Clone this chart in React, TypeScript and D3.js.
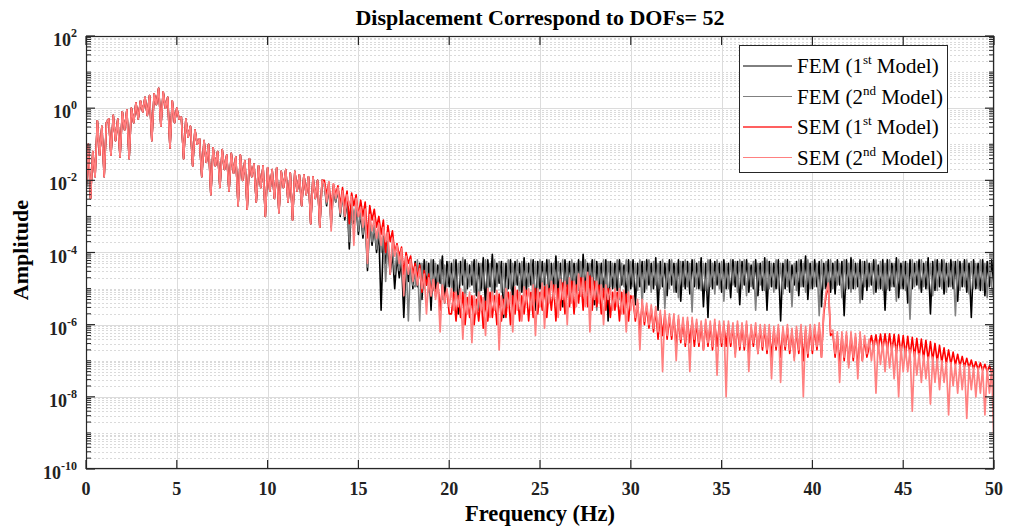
import React from 'react';
import * as d3 from 'd3';

// Frequency sampling of the spectra (Hz between consecutive values)
const STEP_HZ = 0.125;

// All values are log10(amplitude).
// 0 – 13.0 Hz: the four models coincide here
const SHARED_LOW = [
  -2.3, -1.0, -2.5, -1.2, -1.9, -0.35, -1.3, -0.5,
  -1.9, -0.4, -0.3, -1.3, -0.2, -0.9, -0.3, -1.35,
  -0.1, -0.6, -0.05, -1.4, 0.0, -0.4, 0.15, -0.3,
  0.2, -0.1, 0.3, -0.2, 0.35, -0.9, 0.4, 0.1,
  0.55, -0.5, 0.45, 0.0, 0.3, -1.1, 0.2, -0.4,
  0.0, -0.3, -0.25, -1.4, -0.3, -0.8, -0.5, -1.6,
  -0.6, -1.0, -0.85, -1.9, -0.9, -1.5, -1.0, -2.4,
  -1.1, -1.6, -1.2, -2.2, -1.15, -1.7, -1.3, -2.3,
  -1.25, -1.8, -1.35, -2.7, -1.3, -2.0, -1.45, -2.8,
  -1.4, -1.9, -1.55, -2.6, -1.6, -2.2, -1.6, -3.0,
  -1.65, -2.3, -1.7, -2.5, -1.65, -2.9, -1.75, -2.2,
  -1.7, -2.6, -1.8, -3.1, -1.75, -2.3, -1.85, -2.7,
  -1.85, -2.4, -1.9, -3.2, -1.9, -2.5, -2.0, -3.3,
  -2.0,
];

// 13.125 – 50 Hz, FEM (1st Model)
const FEM1_HIGH = [
  -2.1, -2.7, -2.15, -3.3, -2.2, -2.6, -2.25, -3.0,
  -2.35, -3.1, -2.5, -3.9, -2.6, -3.2, -2.7, -3.5,
  -2.9, -3.6, -3.0, -4.5, -3.1, -3.8, -3.3, -4.0,
  -3.4, -5.6, -3.6, -4.3, -3.8, -4.6, -4.0, -5.0,
  -4.1, -4.7, -4.2, -5.8, -4.3, -4.8, -4.25, -5.0,
  -4.25, -4.95, -4.3, -5.3, -4.2, -4.9, -4.3, -5.6,
  -4.2, -5.0, -4.35, -4.85, -4.1, -5.4, -4.25, -4.95,
  -4.3, -5.1, -4.2, -5.7, -4.25, -4.9, -4.2, -5.0,
  -4.35, -4.9, -4.2, -5.2, -4.3, -5.05, -4.15, -5.5,
  -4.2, -4.95, -4.05, -5.1, -4.3, -4.85, -4.25, -5.8,
  -4.3, -5.0, -4.2, -5.4, -4.25, -4.9, -4.3, -5.1,
  -4.15, -5.05, -4.3, -4.9, -4.2, -5.6, -4.25, -5.0,
  -4.25, -4.9, -4.2, -5.3, -4.3, -5.0, -4.1, -5.15,
  -4.3, -5.5, -4.2, -4.95, -4.25, -5.1, -4.3, -4.9,
  -4.2, -5.2, -4.05, -5.0, -4.3, -4.9, -4.2, -5.45,
  -4.25, -4.95, -4.3, -5.1, -4.2, -5.9, -4.25, -5.0,
  -4.3, -5.05, -4.2, -4.9, -4.35, -5.3, -4.2, -5.0,
  -4.2, -5.45, -4.3, -4.95, -4.25, -5.1, -4.2, -4.9,
  -4.3, -5.0, -4.15, -5.6, -4.25, -4.95, -4.3, -5.2,
  -4.2, -4.9, -4.3, -5.1, -4.2, -5.35, -4.25, -5.0,
  -4.25, -5.15, -4.2, -4.95, -4.3, -5.0, -4.15, -5.5,
  -4.3, -5.8, -4.2, -5.0, -4.25, -4.9, -4.3, -5.1,
  -4.2, -5.0, -4.3, -5.25, -4.2, -4.95, -4.25, -5.45,
  -4.25, -4.9, -4.2, -5.1, -4.35, -5.0, -4.2, -5.2,
  -4.3, -5.05, -4.15, -5.6, -4.25, -4.95, -4.3, -5.0,
  -4.2, -5.9, -4.3, -5.0, -4.2, -5.1, -4.35, -4.9,
  -4.25, -5.2, -4.2, -4.95, -4.1, -5.3, -4.3, -5.0,
  -4.2, -4.95, -4.25, -5.5, -4.3, -5.0, -4.2, -5.1,
  -4.3, -5.15, -4.2, -4.9, -4.25, -5.75, -4.2, -5.0,
  -4.15, -5.0, -4.3, -4.95, -4.2, -5.3, -4.25, -5.05,
  -4.3, -4.9, -4.2, -5.1, -4.35, -5.0, -4.2, -5.6,
  -4.2, -5.05, -4.3, -4.95, -4.15, -5.25, -4.3, -5.0,
  -4.25, -5.4, -4.2, -5.0, -4.3, -4.9, -4.2, -5.1,
  -4.3, -5.0, -4.15, -5.7, -4.25, -5.05, -4.2, -4.95,
  -4.2, -5.15, -4.3, -4.95, -4.2, -5.0, -4.25, -5.35,
  -4.25, -4.95, -4.2, -5.1, -4.3, -5.8, -4.2, -5.0,
  -4.3, -5.05, -4.2, -5.2, -4.25, -4.95, -4.2, -5.0,
];

// 13.125 – 50 Hz, FEM (2nd Model)
const FEM2_HIGH = [
  -2.1, -2.65, -2.1, -3.2, -2.15, -2.6, -2.2, -2.95,
  -2.4, -3.0, -2.45, -3.7, -2.55, -3.1, -2.65, -3.4,
  -2.85, -3.5, -2.95, -4.4, -3.1, -3.7, -3.25, -3.9,
  -3.4, -4.0, -3.55, -4.8, -3.7, -4.3, -3.9, -4.6,
  -4.0, -4.5, -4.1, -5.0, -4.2, -5.9, -4.25, -4.9,
  -4.95, -4.2, -5.9, -4.3, -5.0, -4.25, -5.1, -4.2,
  -5.05, -4.3, -4.9, -4.2, -5.3, -4.35, -4.95, -4.25,
  -5.0, -4.2, -5.15, -4.3, -4.9, -4.15, -5.45, -4.3,
  -4.95, -4.25, -5.1, -4.2, -5.6, -4.3, -5.0, -4.2,
  -5.05, -4.3, -5.3, -4.2, -4.95, -4.25, -5.1, -4.3,
  -5.7, -4.2, -5.0, -4.3, -4.9, -4.2, -5.2, -4.25,
  -5.0, -4.3, -4.95, -4.2, -5.4, -4.25, -5.05, -4.2,
  -5.1, -4.3, -5.5, -4.2, -4.95, -4.3, -5.0, -4.25,
  -4.9, -4.2, -5.05, -4.3, -5.35, -4.2, -5.0, -4.3,
  -5.05, -4.25, -4.95, -4.2, -5.15, -4.3, -4.9, -4.2,
  -5.6, -4.3, -5.0, -4.2, -5.1, -4.25, -4.95, -4.3,
  -5.0, -4.2, -5.3, -4.3, -4.95, -4.2, -5.1, -4.25,
  -4.95, -4.3, -5.05, -4.2, -5.45, -4.25, -5.0, -4.2,
  -5.1, -4.25, -4.9, -4.3, -5.0, -4.2, -5.55, -4.3,
  -5.0, -4.2, -5.1, -4.3, -5.25, -4.25, -4.95, -4.2,
  -4.95, -4.3, -5.65, -4.2, -5.0, -4.25, -5.05, -4.3,
  -5.05, -4.2, -4.95, -4.3, -5.15, -4.2, -5.0, -4.25,
  -5.35, -4.3, -5.0, -4.2, -4.9, -4.25, -5.1, -4.2,
  -5.0, -4.2, -5.2, -4.3, -4.95, -4.25, -5.6, -4.3,
  -4.9, -4.25, -5.05, -4.2, -5.0, -4.3, -5.1, -4.2,
  -5.0, -4.3, -5.15, -4.2, -4.95, -4.25, -5.5, -4.3,
  -5.05, -4.2, -4.95, -4.3, -5.1, -4.2, -5.0, -4.25,
  -4.95, -4.3, -5.75, -4.2, -5.0, -4.25, -5.05, -4.2,
  -5.0, -4.25, -4.9, -4.3, -5.25, -4.2, -5.0, -4.3,
  -5.1, -4.2, -5.0, -4.3, -5.4, -4.25, -4.95, -4.2,
  -4.95, -4.3, -5.15, -4.2, -5.0, -4.25, -5.05, -4.3,
  -5.0, -4.2, -4.95, -4.3, -5.35, -4.2, -5.0, -4.25,
  -5.05, -4.3, -5.85, -4.2, -4.95, -4.25, -5.0, -4.2,
  -4.95, -4.25, -5.0, -4.3, -5.2, -4.2, -5.05, -4.3,
  -5.0, -4.2, -5.1, -4.3, -4.95, -4.25, -5.75, -4.2,
  -5.05, -4.3, -4.95, -4.2, -5.15, -4.25, -5.0, -4.3,
  -5.0, -4.2, -5.05, -4.3, -5.25, -4.25, -4.95, -5.3,
];

// 13.125 – 50 Hz, SEM (1st Model)
const SEM1_HIGH = [
  -2.0, -2.4, -2.05, -2.8, -2.1, -2.4, -2.15, -2.7,
  -2.2, -2.7, -2.3, -3.2, -2.35, -2.7, -2.4, -3.0,
  -2.55, -3.0, -2.6, -3.6, -2.7, -3.1, -2.8, -3.3,
  -3.0, -3.5, -3.1, -4.0, -3.25, -3.7, -3.4, -4.0,
  -3.75, -4.1, -3.85, -4.6, -4.0, -4.3, -4.1, -4.6,
  -4.3, -4.7, -4.35, -5.1, -4.5, -4.9, -4.6, -5.2,
  -4.75, -5.2, -4.85, -5.6, -4.95, -5.3, -5.05, -5.7,
  -5.7, -5.1, -5.9, -5.2, -5.8, -5.1, -6.0, -5.25,
  -5.8, -5.2, -6.0, -5.3, -5.9, -5.2, -6.1, -5.35,
  -5.9, -5.1, -5.8, -5.2, -6.0, -5.15, -5.9, -5.3,
  -5.8, -5.1, -6.0, -5.2, -5.7, -5.05, -5.9, -5.2,
  -5.7, -5.05, -5.9, -5.1, -5.8, -5.0, -5.7, -5.1,
  -5.6, -4.95, -5.8, -5.0, -5.6, -4.9, -5.9, -5.0,
  -5.6, -4.85, -5.7, -4.9, -5.5, -4.8, -5.7, -4.9,
  -5.4, -4.7, -5.6, -4.8, -5.5, -4.65, -5.6, -4.8,
  -5.5, -4.9, -5.7, -5.0, -5.6, -5.0, -5.8, -5.1,
  -5.6, -5.1, -5.9, -5.1, -5.7, -5.15, -5.9, -5.2,
  -5.3, -5.9, -5.4, -6.2, -5.4, -6.0, -5.5, -6.1,
  -5.55, -6.2, -5.6, -6.4, -5.7, -6.3, -5.7, -6.4,
  -5.8, -6.4, -5.8, -6.6, -5.85, -6.5, -5.9, -6.6,
  -5.9, -6.5, -5.9, -6.6, -5.95, -6.6, -6.0, -6.7,
  -5.95, -6.6, -6.0, -6.7, -5.95, -6.6, -6.0, -6.6,
  -6.0, -6.6, -6.0, -6.6, -6.05, -6.8, -6.0, -6.7,
  -6.05, -6.7, -6.0, -6.8, -6.1, -6.6, -6.05, -6.8,
  -6.1, -6.7, -6.1, -6.8, -6.1, -6.9, -6.15, -6.7,
  -6.1, -6.9, -6.15, -6.7, -6.1, -6.8, -6.2, -6.9,
  -6.15, -6.8, -6.1, -7.0, -6.15, -6.9, -6.1, -6.8,
  -6.1, -6.7, -6.05, -6.9, -5.7, -5.2, -4.9, -6.3,
  -6.25, -6.9, -6.3, -7.1, -6.3, -7.0, -6.3, -7.1,
  -6.3, -7.0, -6.35, -7.2, -6.3, -7.0, -6.4, -6.9,
  -6.62, -6.3, -6.65, -6.28, -6.68, -6.26, -6.7, -6.25,
  -6.72, -6.25, -6.75, -6.27, -6.8, -6.28, -6.82, -6.3,
  -6.85, -6.32, -6.88, -6.35, -6.9, -6.38, -6.92, -6.4,
  -6.95, -6.43, -6.98, -6.47, -7.0, -6.52, -7.03, -6.57,
  -7.05, -6.64, -7.08, -6.7, -7.1, -6.76, -7.12, -6.82,
  -7.15, -6.88, -7.17, -6.93, -7.2, -6.98, -7.22, -7.03,
  -7.25, -7.06, -7.27, -7.1, -7.3, -7.14, -7.32, -7.18,
];

// 13.125 – 50 Hz, SEM (2nd Model)
const SEM2_HIGH = [
  -2.1, -2.6, -2.05, -3.4, -2.1, -2.5, -2.2, -2.9,
  -2.3, -3.0, -2.4, -2.7, -2.45, -3.8, -2.5, -3.0,
  -2.75, -3.3, -2.8, -4.3, -2.95, -3.4, -3.05, -3.6,
  -3.2, -3.8, -3.3, -3.7, -3.45, -4.6, -3.6, -4.1,
  -3.8, -4.3, -3.9, -5.2, -4.1, -4.6, -4.2, -4.8,
  -4.4, -4.9, -4.45, -5.0, -4.6, -5.7, -4.7, -5.2,
  -4.75, -5.3, -4.85, -6.2, -4.9, -5.4, -5.0, -5.5,
  -5.0, -5.6, -5.1, -5.5, -5.0, -6.4, -5.15, -5.7,
  -5.1, -6.5, -5.2, -5.7, -5.1, -5.6, -5.25, -6.3,
  -5.0, -5.8, -5.1, -5.6, -5.05, -6.7, -5.2, -5.7,
  -5.0, -5.5, -5.1, -6.2, -4.95, -5.6, -5.1, -5.9,
  -4.95, -5.4, -5.0, -5.6, -4.9, -6.3, -5.0, -5.5,
  -4.85, -6.1, -4.9, -5.4, -4.8, -5.3, -4.9, -5.8,
  -4.75, -5.3, -4.8, -6.0, -4.7, -5.4, -4.8, -5.5,
  -4.6, -5.2, -4.7, -5.5, -4.55, -6.2, -4.7, -5.3,
  -4.8, -5.4, -4.9, -6.0, -4.9, -5.3, -5.0, -5.6,
  -5.0, -5.5, -5.0, -5.7, -5.05, -6.2, -5.1, -5.6,
  -5.2, -5.8, -5.3, -6.7, -5.3, -5.9, -5.4, -6.0,
  -5.45, -6.1, -5.5, -6.2, -5.6, -7.3, -5.6, -6.3,
  -5.7, -6.3, -5.7, -7.0, -5.75, -6.4, -5.8, -6.5,
  -5.8, -7.3, -5.8, -6.4, -5.85, -6.5, -5.9, -6.7,
  -5.85, -6.5, -5.9, -6.6, -5.85, -7.4, -5.9, -6.5,
  -5.9, -8.0, -5.9, -6.5, -5.95, -6.9, -5.9, -6.6,
  -5.95, -6.6, -5.9, -7.3, -6.0, -6.5, -5.95, -6.8,
  -6.0, -6.6, -6.0, -6.7, -6.0, -7.5, -6.05, -6.6,
  -6.0, -7.6, -6.05, -6.6, -6.0, -6.7, -6.1, -7.0,
  -6.05, -6.7, -6.0, -8.0, -6.05, -6.8, -6.0, -6.7,
  -6.0, -6.6, -5.95, -6.9, -5.6, -5.1, -4.85, -6.2,
  -6.15, -6.8, -6.2, -7.6, -6.2, -6.9, -6.2, -7.2,
  -6.2, -6.9, -6.25, -7.5, -6.2, -7.0, -6.3, -6.8,
  -6.4, -7.0, -6.45, -7.9, -6.45, -7.1, -6.5, -7.3,
  -6.5, -7.2, -6.55, -7.5, -6.6, -8.0, -6.6, -7.3,
  -6.65, -7.3, -6.7, -8.4, -6.75, -7.4, -6.8, -7.6,
  -6.85, -7.5, -6.9, -8.2, -6.9, -7.6, -6.95, -7.8,
  -7.0, -7.6, -7.05, -8.5, -7.05, -7.7, -7.1, -7.9,
  -7.1, -7.8, -7.12, -8.6, -7.15, -7.8, -7.18, -8.0,
  -7.2, -7.9, -7.2, -8.5, -7.22, -7.9, -7.22, -9.4,
];

const X_TICKS = [0, 5, 10, 15, 20, 25, 30, 35, 40, 45, 50];
const Y_TICK_EXPONENTS = [-10, -8, -6, -4, -2, 0, 2];

const LEGEND = [
  { label: 'FEM (1', sup: 'st', tail: ' Model)' },
  { label: 'FEM (2', sup: 'nd', tail: ' Model)' },
  { label: 'SEM (1', sup: 'st', tail: ' Model)' },
  { label: 'SEM (2', sup: 'nd', tail: ' Model)' },
];

const FONT = "'Liberation Serif', 'DejaVu Serif', serif";

export default function App() {
  const L = 86, R = 994, T = 36, B = 469;
  const x = d3.scaleLinear().domain([0, 50]).range([L, R]);
  const y = d3.scaleLog().domain([1e-10, 1e2]).range([B, T]);

  const series = [
    { vals: [...SHARED_LOW, ...FEM1_HIGH], color: '#000000', width: 1.6 },
    { vals: [...SHARED_LOW, ...FEM2_HIGH], color: '#808080', width: 1.6 },
    { vals: [...SHARED_LOW, ...SEM1_HIGH], color: '#ff0000', width: 1.6 },
    { vals: [...SHARED_LOW, ...SEM2_HIGH], color: '#ff8080', width: 1.7 },
  ];
  const legendStyle = [
    { color: '#000000', width: 1 },
    { color: '#808080', width: 1 },
    { color: '#ff6060', width: 2.2 },
    { color: '#ff8080', width: 1 },
  ];

  const line = d3
    .line<number>()
    .x((_, i) => x(i * STEP_HZ))
    .y((v) => y(Math.pow(10, v)));

  const minorY: number[] = [];
  const majorTickY: number[] = [];
  for (let k = -10; k < 2; k++) {
    for (let m = 1; m <= 9; m++) {
      const v = m * Math.pow(10, k);
      if (m === 1 && Y_TICK_EXPONENTS.includes(k)) continue;
      minorY.push(v);
    }
  }
  Y_TICK_EXPONENTS.forEach((e) => majorTickY.push(Math.pow(10, e)));

  const axisColor = '#262626';

  return (
    <svg
      width={1010}
      height={530}
      style={{ position: 'absolute', left: 0, top: 0, background: '#fff', fontFamily: FONT }}
    >
      <defs>
        <clipPath id="plotclip">
          <rect x={L} y={T} width={R - L} height={B - T} />
        </clipPath>
      </defs>
      <rect x={0} y={0} width={1010} height={530} fill="#fff" />

      {/* minor y grid (dotted) */}
      {minorY.map((v, i) => (
        <line
          key={'mg' + i}
          x1={L}
          x2={R}
          y1={Math.round(y(v)) + 0.5}
          y2={Math.round(y(v)) + 0.5}
          stroke="#dadada"
          strokeWidth={1}
          strokeDasharray="2,2"
        />
      ))}
      {/* major grid */}
      {majorTickY.map((v, i) => (
        <line
          key={'gy' + i}
          x1={L}
          x2={R}
          y1={Math.round(y(v)) + 0.5}
          y2={Math.round(y(v)) + 0.5}
          stroke="#dcdcdc"
          strokeWidth={1}
        />
      ))}
      {X_TICKS.map((t) => (
        <line
          key={'gx' + t}
          x1={Math.round(x(t)) + 0.5}
          x2={Math.round(x(t)) + 0.5}
          y1={T}
          y2={B}
          stroke="#dcdcdc"
          strokeWidth={1}
        />
      ))}

      {/* data */}
      <g clipPath="url(#plotclip)">
        {series.map((s, i) => (
          <path
            key={'s' + i}
            d={line(s.vals) || ''}
            fill="none"
            stroke={s.color}
            strokeWidth={s.width}
            strokeLinejoin="round"
          />
        ))}
      </g>

      {/* axes box */}
      <rect x={L + 0.5} y={T + 0.5} width={R - L - 1} height={B - T - 1} fill="none" stroke={axisColor} strokeWidth={1.2} />

      {/* x ticks */}
      {X_TICKS.map((t) => (
        <g key={'xt' + t}>
          <line x1={x(t)} x2={x(t)} y1={B} y2={B - 9} stroke={axisColor} strokeWidth={1.2} />
          <line x1={x(t)} x2={x(t)} y1={T} y2={T + 9} stroke={axisColor} strokeWidth={1.2} />
          <text x={x(t)} y={495} textAnchor="middle" fontSize={18} fontWeight="bold" fill="#222">
            {t}
          </text>
        </g>
      ))}

      {/* y ticks */}
      {majorTickY.map((v, i) => (
        <g key={'yt' + i}>
          <line x1={L} x2={L + 9} y1={y(v)} y2={y(v)} stroke={axisColor} strokeWidth={1.2} />
          <line x1={R} x2={R - 9} y1={y(v)} y2={y(v)} stroke={axisColor} strokeWidth={1.2} />
        </g>
      ))}
      {minorY.map((v, i) => (
        <g key={'ymt' + i}>
          <line x1={L} x2={L + 5} y1={y(v)} y2={y(v)} stroke={axisColor} strokeWidth={1} />
          <line x1={R} x2={R - 5} y1={y(v)} y2={y(v)} stroke={axisColor} strokeWidth={1} />
        </g>
      ))}
      {Y_TICK_EXPONENTS.map((e) => (
        <text key={'yl' + e} x={77} y={y(Math.pow(10, e)) + 10} textAnchor="end" fontSize={18} fontWeight="bold" fill="#222">
          <tspan>10</tspan>
          <tspan dy={-9} fontSize={12}>
            {e}
          </tspan>
        </text>
      ))}

      {/* title & labels */}
      <text x={540} y={25} textAnchor="middle" fontSize={22} fontWeight="bold" fill="#000">
        Displacement Correspond to DOFs= 52
      </text>
      <text x={540} y={521} textAnchor="middle" fontSize={22.5} fontWeight="bold" fill="#000">
        Frequency (Hz)
      </text>
      <text transform="translate(28,250) rotate(-90)" textAnchor="middle" fontSize={22} fontWeight="bold" fill="#000">
        Amplitude
      </text>

      {/* legend */}
      <rect x={739.5} y={45.5} width={208} height={127} fill="#fff" stroke={axisColor} strokeWidth={1} />
      {LEGEND.map((item, i) => {
        const cy = 66 + i * 30.5;
        return (
          <g key={'lg' + i}>
            <line x1={743} x2={792} y1={cy} y2={cy} stroke={legendStyle[i].color} strokeWidth={legendStyle[i].width} />
            <text x={797} y={cy + 7} fontSize={21} fill="#000">
              <tspan>{item.label}</tspan>
              <tspan dy={-9} fontSize={13}>
                {item.sup}
              </tspan>
              <tspan dy={9}>{item.tail}</tspan>
            </text>
          </g>
        );
      })}
    </svg>
  );
}
